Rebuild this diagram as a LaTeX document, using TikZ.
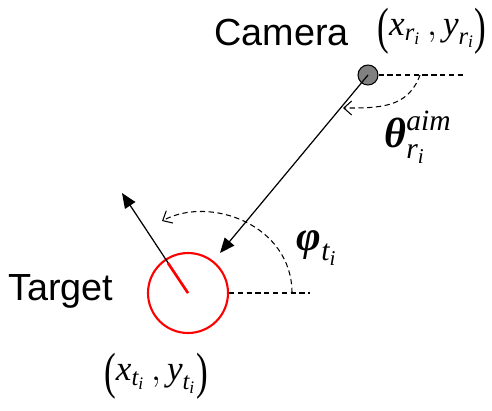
\documentclass[tikz,border=0pt]{standalone}
\usepackage{amsmath,amssymb}
\usepackage[no-math]{fontspec}
\setmainfont{Liberation Sans}
\newfontfamily\tnr{Liberation Serif}
\newcommand\tv[1]{\text{\tnr\itshape #1}}
\newcommand\tb[1]{\text{\tnr\itshape\bfseries #1}}
\newcommand\lpar{\text{\raisebox{-4.5pt}{\scalebox{1}[1.45]{\tnr(}}}}
\newcommand\rpar{\text{\raisebox{-4.5pt}{\scalebox{1}[1.45]{\tnr)}}}}
\usepackage{tikz}
\usetikzlibrary{arrows.meta}

\begin{document}
\begin{tikzpicture}[x=0.02cm,y=-0.02cm,
  lbl/.style={inner sep=0,font=\fontsize{21.5}{26}\selectfont},
  mlbl/.style={inner sep=0,font=\fontsize{20}{24}\selectfont},
  glbl/.style={inner sep=0,font=\fontsize{24}{28}\selectfont},
  ray/.style={line width=0.7pt,-{Triangle[length=8.5pt,width=7pt]}},
  guide/.style={line width=0.6pt,dash pattern=on 3pt off 2pt},
  sweep/.style={guide,-{Straight Barb[length=4.5pt,width=8pt]}}]
\useasboundingbox (0,0) rectangle (492,410);
% camera
\node[circle,draw,fill=gray,line width=0.6pt,inner sep=0,minimum size=0.4cm] (cam) at (368,75) {};
\node[lbl,anchor=base west] (camtxt) at (214,45) {Camera};
\node[mlbl] (campos) at (432,31) {$\lpar\tv{x}_{\tv{r}_{\tv{i}}}\,,\tv{y}_{\tv{r}_{\tv{i}}}\rpar$};
\coordinate (camref) at (465,75);
\coordinate (camarc) at (420,75);
\coordinate (camaim) at (343,108);
\coordinate (hit) at (220,253);
\draw[guide] (cam) -- (camref);
\draw[ray] (cam.center) -- (hit);
\draw[sweep] (camarc) .. controls (408,108) and (380,108) .. (camaim);
\node[glbl] (aim) at (418,137) {$\tb{θ}^{\tv{aim}}_{\tv{r}_{\tv{i}}}$};
% target
\node[circle,draw=red,line width=1.2pt,inner sep=0,minimum size=1.6cm] (tgt) at (188,293) {};
\node[lbl,anchor=base west] (tgttxt) at (8,300) {Target};
\node[mlbl] (tgtpos) at (156,376) {$\lpar\tv{x}_{\tv{t}_{\tv{i}}}\,,\tv{y}_{\tv{t}_{\tv{i}}}\rpar$};
\coordinate (head) at (122,193);
\coordinate (nose) at (168,263);
\coordinate (tgtref) at (310,293);
\coordinate (tgtarc) at (292,293);
\coordinate (tgtend) at (162,221);
\draw[ray] (tgt.center) -- (head);
\draw[red,line width=1.5pt] (tgt.center) -- (nose);
\draw[guide] (tgt) -- (tgtref);
\draw[sweep] (tgtarc) .. controls (292,225) and (210,195) .. (tgtend);
\node[glbl] (phi) at (317,248) {$\tb{φ}_{\tv{t}_{\tv{i}}}$};
\end{tikzpicture}
\end{document}
